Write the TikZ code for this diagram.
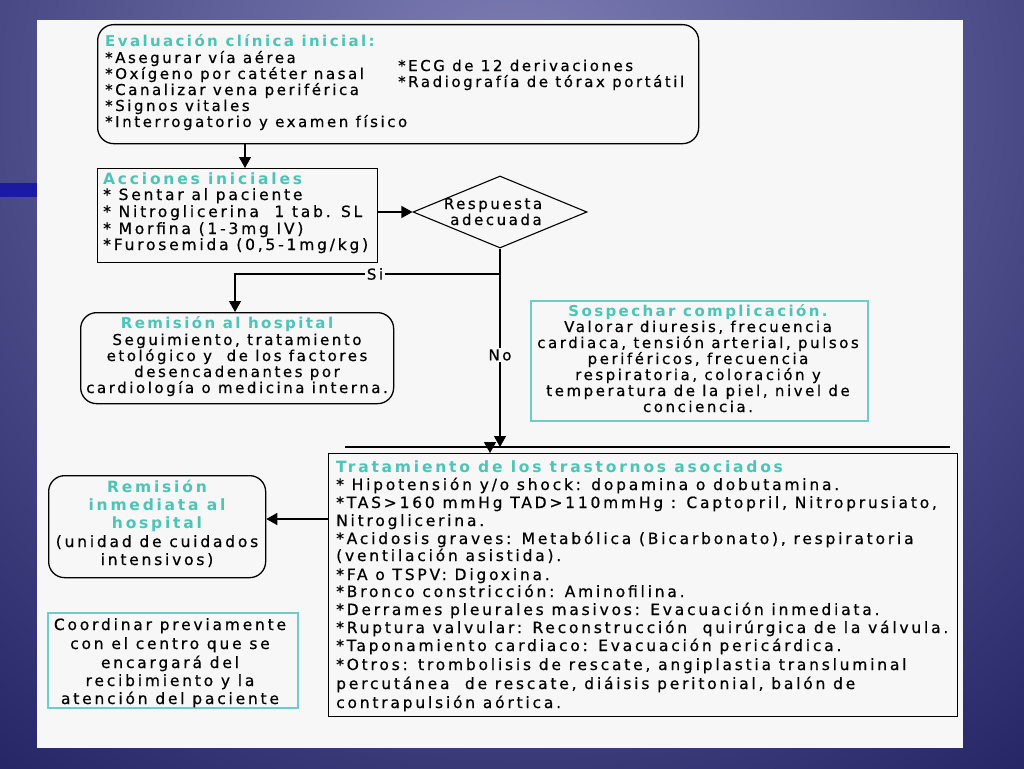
\documentclass[tikz,border=0pt]{standalone}
\usepackage{fontspec}
\usetikzlibrary{shapes.geometric,arrows.meta}
\newfontfamily\dfa[LetterSpace=17,FakeBold=0.6]{DejaVu Sans}
\newfontfamily\dfc[LetterSpace=18,FakeBold=0.6]{DejaVu Sans}
\newfontfamily\dfab[LetterSpace=16]{DejaVu Sans Bold}
\newfontfamily\dfcb[LetterSpace=18]{DejaVu Sans Bold}
\definecolor{ttl}{RGB}{76,196,182}
\definecolor{tbord}{RGB}{110,205,200}
\definecolor{panel}{RGB}{247,247,247}
\definecolor{bgin}{RGB}{128,128,182}
\definecolor{bgout}{RGB}{16,16,84}
\definecolor{bar}{RGB}{26,26,165}
\begin{document}
\begin{tikzpicture}[x=1pt,y=-1pt,
  box/.style={draw=black,line width=1.3pt,inner sep=0pt,anchor=north west},
  rbox/.style={box,rounded corners=16pt},
  tbox/.style={draw=tbord,line width=1.6pt,inner sep=0pt,anchor=north west},
  txt/.style={font=\dfa\fontsize{15}{16}\selectfont,inner sep=0pt,anchor=base west},
  ctxt/.style={txt,anchor=base},
  ttx/.style={font=\dfab\fontsize{15}{16}\selectfont,text=ttl,inner sep=0pt,anchor=base west},
  cttx/.style={ttx,anchor=base},
  btxt/.style={txt,font=\dfc\fontsize{15.5}{18}\selectfont},
  cbtxt/.style={btxt,anchor=base},
  bttx/.style={ttx,font=\dfcb\fontsize{15.5}{18}\selectfont},
  cbttx/.style={bttx,anchor=base},
  conn/.style={line width=1.3pt},
  arr/.style={conn,-{Triangle[length=11pt,width=12pt]}},
  lbl/.style={txt,anchor=center,fill=panel,inner sep=1.5pt}]
\useasboundingbox (0,0) rectangle (1024,768);
% background
\begin{scope}
\clip (0,0) rectangle (1024,768);
\shade[inner color=bgin,outer color=bgout] (512,100) circle (1050);
\end{scope}
\fill[bar] (0,183) rectangle (37,197);
\fill[panel] (37,20) rectangle (963,748);

% Box 1
\node[rbox,minimum width=601pt,minimum height=119pt] (eval) at (97,24) {};
\node[ttx] (evalt) at (105,47) {Evaluación clínica inicial:};
\node[txt] (e1) at (105,63) {*Asegurar vía aérea};
\node[txt] (e2) at (105,79) {*Oxígeno por catéter nasal};
\node[txt] (e3) at (105,95) {*Canalizar vena periférica};
\node[txt] (e4) at (105,111) {*Signos vitales};
\node[txt] (e5) at (105,127) {*Interrogatorio y examen físico};
\node[txt] (e6) at (398,71) {*ECG de 12 derivaciones};
\node[txt] (e7) at (398,87) {*Radiografía de tórax portátil};

% Box 2
\node[box,minimum width=280pt,minimum height=94pt] (acc) at (97,168) {};
\node[bttx] (acct) at (103,184) {Acciones iniciales};
\node[btxt] (a1) at (103,200) {* Sentar al paciente};
\node[btxt] (a2) at (103,217) {* Nitroglicerina\ \ 1 tab. SL};
\node[btxt] (a3) at (103,234) {* Morfina (1-3mg IV)};
\node[btxt] (a4) at (103,250) {*Furosemida (0,5-1mg/kg)};

% Diamond
\node[diamond,draw=black,line width=1.1pt,minimum width=174pt,minimum height=72pt,inner sep=0pt] (resp) at (500,212) {};
\node[ctxt] (r1) at (493,209) {Respuesta};
\node[ctxt] (r2) at (496,225) {adecuada};

% Box 3
\node[rbox,minimum width=313pt,minimum height=91pt] (rem) at (80,312) {};
\node[cttx] (remt) at (227,328) {Remisión al hospital};
\node[ctxt] (m1) at (237,345) {Seguimiento, tratamiento};
\node[ctxt] (m2) at (237,361) {etológico y\ \ de los factores};
\node[ctxt] (m3) at (237,377) {desencadenantes por};
\node[ctxt] (m4) at (237,393) {cardiología o medicina interna.};

% Box 4
\node[tbox,minimum width=337pt,minimum height=120pt] (sos) at (530,300) {};
\node[cttx] (sost) at (698,316) {Sospechar complicación.};
\node[ctxt] (s1) at (698,332) {Valorar diuresis, frecuencia};
\node[ctxt] (s2) at (698,348) {cardiaca, tensión arterial, pulsos};
\node[ctxt] (s3) at (698,364) {periféricos, frecuencia};
\node[ctxt] (s4) at (698,380) {respiratoria, coloración y};
\node[ctxt] (s5) at (698,396) {temperatura de la piel, nivel de};
\node[ctxt] (s6) at (698,412) {conciencia.};

% horizontal line
\coordinate (hlL) at (345,447);
\coordinate (hlR) at (950,447);
\coordinate (hlM) at (500,447);
\coordinate (hlA) at (490,447);
\draw[conn] (hlL) -- (hlR);

% Box 5
\node[box,minimum width=629pt,minimum height=263pt] (trat) at (328,453) {};
\node[bttx] (tratt) at (336,472) {Tratamiento de los trastornos asociados};
\node[btxt] (t1) at (336,490) {* Hipotensión y/o shock: dopamina o dobutamina.};
\node[btxt] (t2) at (336,508) {*TAS>160 mmHg TAD>110mmHg : Captopril, Nitroprusiato,};
\node[btxt] (t3) at (336,526) {Nitroglicerina.};
\node[btxt] (t4) at (336,544) {*Acidosis graves: Metabólica (Bicarbonato), respiratoria};
\node[btxt] (t5) at (336,561) {(ventilación asistida).};
\node[btxt] (t6) at (336,580) {*FA o TSPV: Digoxina.};
\node[btxt] (t7) at (336,597) {*Bronco constricción: Aminofilina.};
\node[btxt] (t8) at (336,615) {*Derrames pleurales masivos: Evacuación inmediata.};
\node[btxt] (t9) at (336,633) {*Ruptura valvular: Reconstrucción\ \ quirúrgica de la válvula.};
\node[btxt] (t10) at (336,651) {*Taponamiento cardiaco: Evacuación pericárdica.};
\node[btxt] (t11) at (336,670) {*Otros: trombolisis de rescate, angiplastia transluminal};
\node[btxt] (t12) at (336,689) {percutánea\ \ de rescate, diáisis peritonial, balón de};
\node[btxt] (t13) at (336,708) {contrapulsión aórtica.};

% Box 6
\node[rbox,minimum width=217pt,minimum height=102pt] (inm) at (48,475) {};
\node[cbttx] (i1) at (157,492) {Remisión};
\node[cbttx] (i2) at (157,510) {inmediata al};
\node[cbttx] (i3) at (157,528) {hospital};
\node[cbtxt] (i4) at (157,547) {(unidad de cuidados};
\node[cbtxt] (i5) at (157,565) {intensivos)};

% Box 7
\node[tbox,minimum width=250pt,minimum height=95pt] (coo) at (47,612) {};
\node[cbtxt] (c1) at (170,630) {Coordinar previamente};
\node[cbtxt] (c2) at (170,649) {con el centro que se};
\node[cbtxt] (c3) at (170,668) {encargará del};
\node[cbtxt] (c4) at (170,686) {recibimiento y la};
\node[cbtxt] (c5) at (170,704) {atención del paciente};

% connectors
\draw[arr] (eval.south -| 245,0) -- (acc.north -| 245,0);
\draw[arr] (acc.east |- resp.west) -- (resp.west);
\draw[conn] (resp.south) -- (500,274) coordinate (br);
\draw[arr] (br) -- (235,274) -- (rem.north -| 235,0);
\node[lbl] (si) at (375,274) {Si};
\draw[arr] (br) -- (hlM);
\node[lbl] (no) at (500,355) {No};
\draw[arr] (hlA) -- (trat.north -| hlA);
\draw[arr] (trat.west |- 0,519) -- (inm.east |- 0,519);
\end{tikzpicture}
\end{document}
